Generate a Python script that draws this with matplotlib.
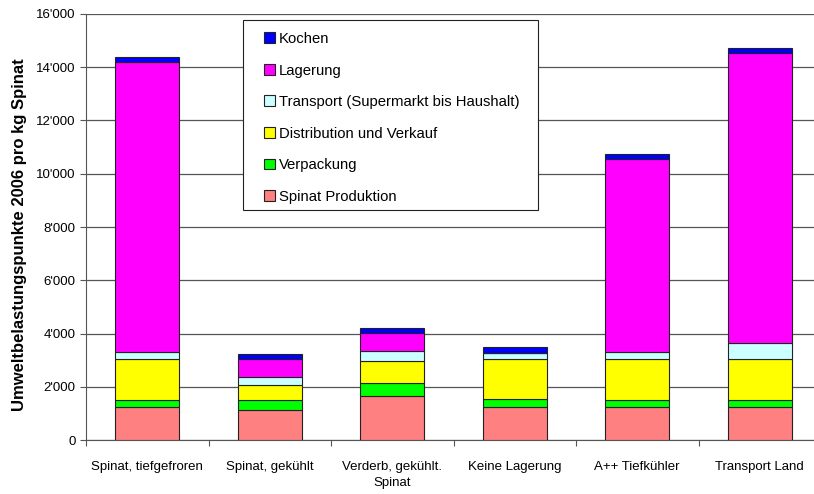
import numpy as np
import matplotlib.pyplot as plt
from matplotlib.patches import Rectangle
from matplotlib.ticker import FuncFormatter

plt.rcParams['font.family'] = ['Liberation Sans', 'DejaVu Sans']

categories = ['Spinat, tiefgefroren', 'Spinat, gekühlt', 'Verderb, gekühlt.\nSpinat',
              'Keine Lagerung', 'A++ Tiefkühler', 'Transport Land']

# values per stage (Umweltbelastungspunkte 2006 pro kg Spinat)
produktion = [1250, 1125, 1650, 1250, 1250, 1250]
verpackung = [250, 375, 475, 275, 250, 250]
distribution = [1550, 575, 850, 1525, 1550, 1550]
transport = [250, 275, 350, 225, 250, 600]
lagerung = [10900, 700, 700, 0, 7250, 10900]
kochen = [200, 175, 200, 200, 200, 175]

series = [
    ('Spinat Produktion', produktion, '#FF8080'),
    ('Verpackung', verpackung, '#00FF00'),
    ('Distribution und Verkauf', distribution, '#FFFF00'),
    ('Transport (Supermarkt bis Haushalt)', transport, '#CCFFFF'),
    ('Lagerung', lagerung, '#FF00FF'),
    ('Kochen', kochen, '#0000FF'),
]

W, H = 814, 494
fig = plt.figure(figsize=(W / 100, H / 100), dpi=100)
ax = fig.add_axes([86 / W, 54 / H, 735 / W, 426 / H])

x = np.arange(len(categories))
bottom = np.zeros(len(categories))
handles = []
for name, vals, col in series:
    vals = np.array(vals, dtype=float)
    b = ax.bar(x, vals, 0.52, bottom=bottom, color=col, edgecolor='#222222',
               linewidth=0.8, label=name, zorder=3)
    handles.append(b)
    bottom += vals

ax.set_xlim(-0.5, len(categories) - 0.5)
ax.set_ylim(0, 16000)
ax.set_yticks(np.arange(0, 16001, 2000))
ax.yaxis.set_major_formatter(FuncFormatter(lambda v, p: f"{int(v):,}".replace(',', "'")))
ax.set_xticks(np.arange(len(categories) + 1) - 0.5, minor=False)
ax.set_xticklabels([])
ax.set_xticks(x, minor=True)
ax.set_xticklabels(categories, minor=True, fontsize=9.5, linespacing=1.45)
ax.tick_params(axis='x', which='minor', length=0, pad=15)
ax.tick_params(axis='x', which='major', length=4, color='#555555')
ax.tick_params(axis='y', labelsize=9.5, length=4, color='#555555')

ax.grid(axis='y', color='#555555', linewidth=0.9, zorder=0)
for s in ['top', 'right']:
    ax.spines[s].set_visible(False)
ax.spines['left'].set_color('#555555')
ax.spines['bottom'].set_color('#555555')

ax.set_ylabel('Umweltbelastungspunkte 2006 pro kg Spinat', fontsize=12,
              fontweight='bold')
ax.yaxis.set_label_coords(-0.080, 0.481)

# legend box drawn separately (wider side padding than top/bottom)
frame = Rectangle((243 / W, 1 - 210 / H), 295 / W, 190 / H, transform=fig.transFigure,
                  facecolor='white', edgecolor='#222222', linewidth=0.8, zorder=4,
                  clip_on=False)
ax.add_patch(frame)

leg = ax.legend(handles[::-1], [s[0] for s in series[::-1]], loc='upper left',
                bbox_to_anchor=(264 / W, 1 - 32 / H), bbox_transform=fig.transFigure,
                fontsize=10.7, frameon=False, handlelength=0.75,
                handleheight=0.75, handletextpad=0.25, labelspacing=1.18,
                borderpad=0, borderaxespad=0)
leg.set_zorder(5)

fig.savefig('out.png', dpi=100)
